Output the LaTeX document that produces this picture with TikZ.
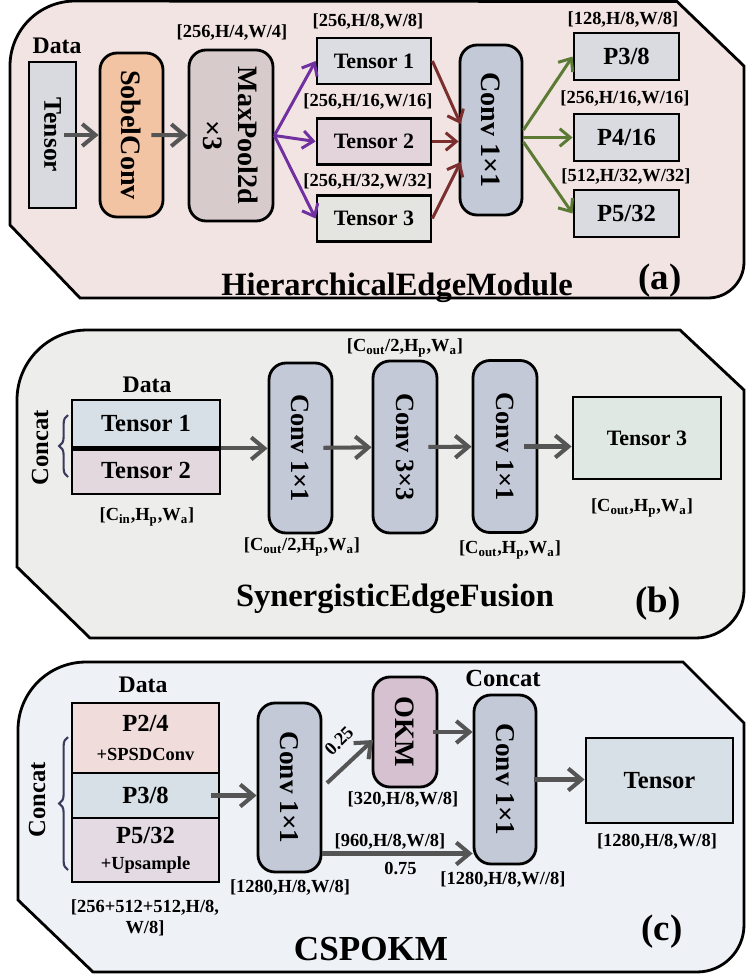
\documentclass[tikz,border=0pt]{standalone}
\usepackage{fontspec}
\setmainfont{Liberation Serif}
\usetikzlibrary{arrows.meta,calc,decorations.pathreplacing}

\newcommand{\pxu}{0.02cm}

\definecolor{bgA}{HTML}{F1E4E2}
\definecolor{bgB}{HTML}{EDEEEC}
\definecolor{bgC}{HTML}{EEF1F5}
\definecolor{tensorgray}{HTML}{D9DAE0}
\definecolor{sobelorange}{HTML}{F2C4A3}
\definecolor{poolmauve}{HTML}{D8CBCC}
\definecolor{convblue}{HTML}{C4C9D8}
\definecolor{tonegray}{HTML}{DCDDE3}
\definecolor{ttwopink}{HTML}{E3D4DB}
\definecolor{tthreegreen}{HTML}{E4E5E0}
\definecolor{pgray}{HTML}{DADBE0}
\definecolor{edgepurple}{HTML}{7030A0}
\definecolor{edgered}{HTML}{7A2E2E}
\definecolor{edgegreen}{HTML}{5B7B34}
\definecolor{arrowgray}{HTML}{555555}
\definecolor{bluegray}{HTML}{D7E0E6}
\definecolor{mauvegray}{HTML}{E3D8DE}
\definecolor{mintgray}{HTML}{E0E8E4}
\definecolor{rosepink}{HTML}{F1DCDC}
\definecolor{lilac}{HTML}{E4DAE4}
\definecolor{okmpurple}{HTML}{D5C1D0}
\definecolor{bracenavy}{HTML}{3A3A5C}

\begin{document}
\begin{tikzpicture}
    [x=0.02cm,y=-0.02cm,
     panel/.style={draw=black,line width=1.6pt},
     box/.style={draw=black,line width=1.6pt,inner sep=0pt},
     vbox/.style={box,rounded corners=0.34cm,rotate=-90},
     dims/.style 2 args={minimum width=#1*\pxu,minimum height=#2*\pxu},
     ftxt/.style={font=\fontsize{12.5}{14}\selectfont\bfseries},
     fp/.style={font=\fontsize{14}{16}\selectfont\bfseries},
     fbig/.style={font=\fontsize{16}{20}\selectfont\bfseries},
     lbl/.style={font=\fontsize{10.5}{12}\selectfont\bfseries,inner sep=1pt},
     data/.style={font=\fontsize{13.5}{15}\selectfont\bfseries,inner sep=1pt},
     title/.style={font=\fontsize{18.5}{20}\selectfont\bfseries,anchor=base},
     tag/.style={font=\fontsize{21}{23}\selectfont\bfseries},
     brace/.style={decorate,decoration={brace,amplitude=5pt},draw=bracenavy,line width=1.2pt},
     arr/.style={draw=arrowgray,line width=2.3pt,-{Straight Barb[length=7.5pt,width=12.5pt]}},
     fromin/.style={shorten <=-#1*\pxu},
     parr/.style={draw=edgepurple,line width=1.7pt,-{Straight Barb[length=6pt,width=10pt]}},
     rarr/.style={draw=edgered,line width=1.7pt,-{Straight Barb[length=6pt,width=10pt]}},
     garr/.style={draw=edgegreen,line width=1.7pt,-{Straight Barb[length=6pt,width=10pt]}}]
    \useasboundingbox (0,0) rectangle (746,978);

    % panel outlines
    \draw[panel,fill=bgA] (10,225) -- (10,66) arc[start angle=180,end angle=90,radius=1.3cm]
      -- (677,1.5) -- (744,66) -- (744,262) arc[start angle=0,end angle=-90,radius=0.72cm]
      -- (80,298) -- cycle;
    \draw[panel,fill=bgB] (17,567) -- (17,400) arc[start angle=180,end angle=90,radius=1.4cm]
      -- (680,330) -- (744,390) -- (744,590) arc[start angle=0,end angle=-90,radius=0.96cm]
      -- (90,638) -- cycle;
    \draw[panel,fill=bgC] (18,900) -- (18,730) arc[start angle=180,end angle=90,radius=1.36cm]
      -- (683,662) -- (744,723) -- (744,925) arc[start angle=0,end angle=-90,radius=0.94cm]
      -- (93,972) -- cycle;

    % (a) HierarchicalEdgeModule
    \node[data] (dataA) at (57,46) {Data};
    \node[box,rotate=-90,fill=tensorgray,dims={146}{47},font=\fontsize{14.5}{16}\selectfont\bfseries] (tnsA) at (52.5,135) {Tensor};
    \node[vbox,fill=sobelorange,dims={164}{63},fbig] (sobel) at (131.5,135) {SobelConv};
    \node[vbox,fill=poolmauve,dims={171}{84},fbig,align=center] (pool) at (231,135.5) {MaxPool2d\\×3};
    \node[lbl] (lpool) at (232,33) {[256,H/4,W/4]};
    \node[box,fill=tonegray,dims={114}{46},ftxt] (tA1) at (374,61) {Tensor 1};
    \node[box,fill=ttwopink,dims={114}{46},ftxt] (tA2) at (374,141.5) {Tensor 2};
    \node[box,fill=tthreegreen,dims={114}{46},ftxt] (tA3) at (374,218.5) {Tensor 3};
    \node[lbl] (ltA1) at (368,22) {[256,H/8,W/8]};
    \node[lbl] (ltA2) at (368,102) {[256,H/16,W/16]};
    \node[lbl] (ltA3) at (368,182) {[256,H/32,W/32]};
    \node[vbox,fill=convblue,dims={170}{62},fbig] (convA) at (491,130) {Conv 1×1};
    \node[box,fill=pgray,dims={105}{47},fp] (p3) at (626.5,56.5) {P3/8};
    \node[box,fill=pgray,dims={105}{47},fp] (p4) at (626.5,137.5) {P4/16};
    \node[box,fill=pgray,dims={105}{47},fp] (p5) at (626.5,213.5) {P5/32};
    \node[lbl] (lp3) at (623,20) {[128,H/8,W/8]};
    \node[lbl] (lp4) at (625,99) {[256,H/16,W/16]};
    \node[lbl] (lp5) at (626,177) {[512,H/32,W/32]};
    \node[title] (titleA) at (397,295) {HierarchicalEdgeModule};
    \node[tag] (tagA) at (660,281) {(a)};

    \draw[arr,fromin=13] (tnsA) -- (sobel);
    \draw[arr,fromin=13] (sobel) -- (pool);
    \draw[parr] (pool.north) -- (tA1.west);
    \draw[parr] (pool.north) -- (tA2.west);
    \draw[parr] (pool.north) -- (tA3.west);
    \draw[rarr] (tA1.east) -- ($(convA.south)+(2,-6)$);
    \draw[rarr] (tA2.east) -- (tA2.east -| convA.south);
    \draw[rarr] (tA3.east) -- ($(convA.south)+(2,32)$);
    \draw[garr] (convA.north) -- (p3.west);
    \draw[garr] (convA.north |- p4) -- (p4.west);
    \draw[garr] ($(convA.north)+(0,12)$) -- (p5.west);

    % (b) SynergisticEdgeFusion
    \node[lbl] (lcb2) at (405,348) {[C\textsubscript{out}/2,H\textsubscript{p},W\textsubscript{a}]};
    \node[data] (dataB) at (147,385) {Data};
    \node[box,fill=bluegray,dims={148}{47},fp] (tB1) at (146,423.5) {Tensor 1};
    \node[box,fill=mauvegray,dims={148}{47},fp] (tB2) at (146,470.5) {Tensor 2};
    \draw[line width=2.6pt] (tB1.south west) -- (tB1.south east);
    \draw[brace] (68,477) -- (68,415);
    \node[data,rotate=90,font=\fontsize{14}{16}\selectfont\bfseries] (catB) at (40,448) {Concat};
    \node[lbl] (ltB) at (147,517) {[C\textsubscript{in},H\textsubscript{p},W\textsubscript{a}]};
    \node[vbox,fill=convblue,dims={170}{63},font=\fontsize{15}{18}\selectfont\bfseries] (cb1) at (300.5,448) {Conv 1×1};
    \node[lbl] (lcb1) at (302,547) {[C\textsubscript{out}/2,H\textsubscript{p},W\textsubscript{a}]};
    \node[vbox,fill=convblue,dims={172}{64},font=\fontsize{15}{18}\selectfont\bfseries] (cb2) at (405,447) {Conv 3×3};
    \node[vbox,fill=convblue,dims={172}{64},font=\fontsize{15}{18}\selectfont\bfseries] (cb3) at (505,446.5) {Conv 1×1};
    \node[lbl] (lcb3) at (510,550) {[C\textsubscript{out},H\textsubscript{p},W\textsubscript{a}]};
    \node[box,fill=mintgray,dims={148}{82},ftxt] (tB3) at (647,438) {Tensor 3};
    \node[lbl] (ltB3) at (642,508) {[C\textsubscript{out},H\textsubscript{p},W\textsubscript{a}]};
    \node[title] (titleB) at (395,606) {SynergisticEdgeFusion};
    \node[tag] (tagB) at (658,604) {(b)};

    \draw[arr] (tB1.south east) -- (tB1.south east -| cb1.south);
    \draw[arr,fromin=10] (cb1) -- (cb2);
    \draw[arr,fromin=10] (cb2) -- (cb3);
    \draw[arr,fromin=14] (cb3.north) -- (cb3.north -| tB3.west);

    % (c) CSPOKM
    \node[data] (dataC) at (143,685) {Data};
    \node[box,fill=rosepink,dims={147}{70},fp,align=center] (p2c) at (145.5,738) {P2/4\\[1pt]{\fontsize{10.5}{12}\selectfont +SPSDConv}};
    \node[box,fill=bluegray,dims={147}{45},fp] (p3c) at (145.5,795.5) {P3/8};
    \node[box,fill=lilac,dims={147}{64},fp,align=center] (p5c) at (145.5,850) {P5/32\\[-1pt]{\fontsize{10.5}{12}\selectfont +Upsample}};
    \draw[brace] (68,870) -- (68,737);
    \node[data,rotate=90,font=\fontsize{14}{16}\selectfont\bfseries] (catC) at (37,800) {Concat};
    \node[lbl,align=center] (lp2c) at (145,918) {[256+512+512,H/8,\\W/8]};
    \node[vbox,fill=convblue,dims={169}{63},font=\fontsize{15.5}{18}\selectfont\bfseries] (cc1) at (289.5,787.5) {Conv 1×1};
    \node[lbl] (lcc1) at (290,888) {[1280,H/8,W/8]};
    \node[vbox,fill=okmpurple,dims={110}{64},fbig] (okm) at (405,732) {OKM};
    \node[lbl] (lokm) at (403,800) {[320,H/8,W/8]};
    \node[data,font=\fontsize{14}{16}\selectfont\bfseries] (catC2) at (503,678) {Concat};
    \node[vbox,fill=convblue,dims={169}{62},font=\fontsize{15.5}{18}\selectfont\bfseries] (cc2) at (505,779.5) {Conv 1×1};
    \node[lbl] (lcc2) at (503,880) {[1280,H/8,W//8]};
    \node[box,fill=bluegray,dims={147}{85},fp] (tenC) at (659.5,780.5) {Tensor};
    \node[lbl] (ltenC) at (657,842) {[1280,H/8,W/8]};
    \node[title,font=\fontsize{20}{22}\selectfont\bfseries] (titleC) at (371,960) {CSPOKM};
    \node[tag] (tagC) at (662,932) {(c)};

    \coordinate (q25) at (327,783);
    \coordinate (okmin) at (373,740);
    \coordinate (q75) at ($(cc1.north)+(0,66)$);
    \draw[arr,fromin=9] (p3c.east) -- (p3c.east -| cc1.south);
    \draw[arr] (q25) -- (okmin);
    \node[lbl,rotate=45] (l25) at (339,741) {0.25};
    \draw[arr,fromin=5] (okm.north) -- (okm.north -| cc2.south);
    \draw[arr] (q75) -- node[lbl,above,pos=0.45] {[960,H/8,W/8]}
      node[lbl,below,pos=0.52,yshift=-3pt] {0.75} (q75 -| cc2.south);
    \draw[arr,fromin=3] (cc2.north) -- (cc2.north -| tenC.west);
\end{tikzpicture}
\end{document}
